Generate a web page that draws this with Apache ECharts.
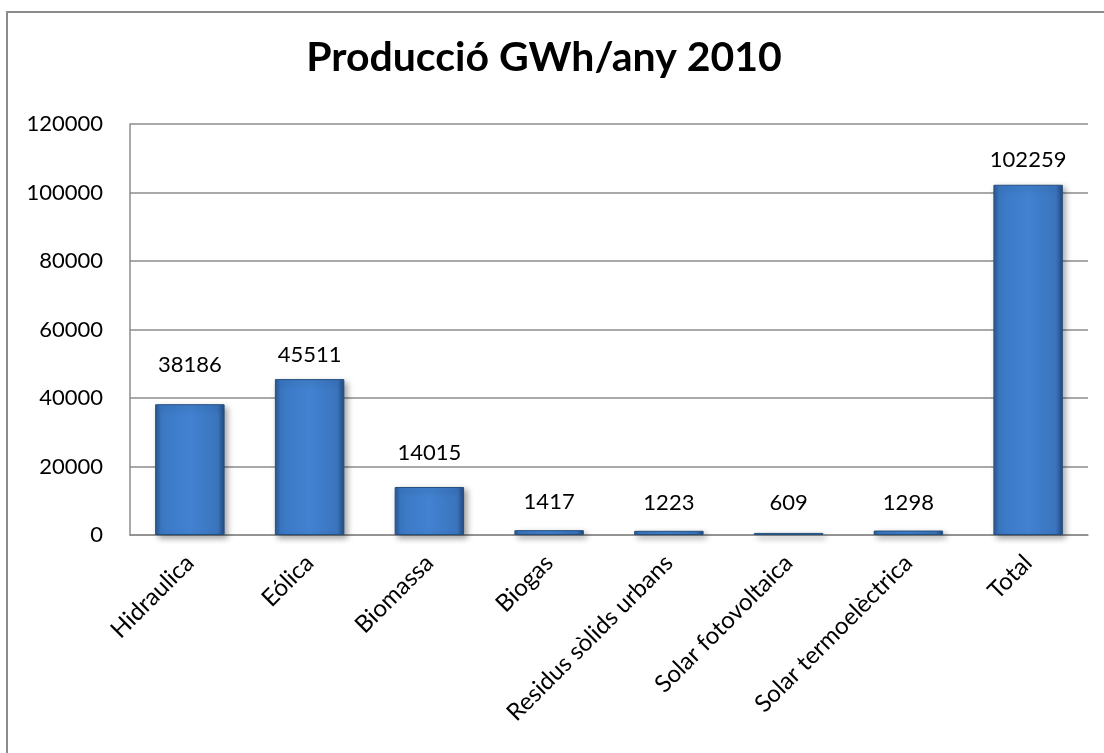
<!DOCTYPE html>
<html>
<head>
<meta charset="utf-8">
<script src="https://cdn.jsdelivr.net/npm/echarts@6/dist/echarts.min.js"></script>
<style>
  html, body { margin: 0; padding: 0; background: #fff; }
  #chart { width: 1104px; height: 753px; }
</style>
</head>
<body>
<div id="chart"></div>
<script>
// Energy production by source, 2010 (GWh/year)
const categories = ['Hidraulica', 'Eólica', 'Biomassa', 'Biogas', 'Residus sòlids urbans', 'Solar fotovoltaica', 'Solar termoelèctrica', 'Total'];
const production = [38186, 45511, 14015, 1417, 1223, 609, 1298, 102259];
const yTicks = [0, 20000, 40000, 60000, 80000, 100000, 120000];

// gap between each bar top and its value label (px)
const labelGap = [28, 13, 23, 17, 17, 19, 17, 14];

const FONT = 'Lato, "Open Sans", sans-serif';

const barFill = new echarts.graphic.LinearGradient(0, 0, 1, 0, [
  { offset: 0, color: '#29568f' },
  { offset: 0.08, color: '#3b78c4' },
  { offset: 0.5, color: '#4282d1' },
  { offset: 0.9, color: '#3a74bd' },
  { offset: 1, color: '#234a7c' }
]);

const barData = production.map((v, i) => ({
  value: v,
  label: { distance: labelGap[i] }
}));

const chart = echarts.init(document.getElementById('chart'), null, { renderer: 'canvas' });
chart.setOption({
  backgroundColor: '#ffffff',
  animation: false,
  graphic: [{
    type: 'rect',
    shape: { x: 7, y: 12, width: 1120, height: 780 },
    style: { fill: 'none', stroke: '#8c8c8c', lineWidth: 2 },
    silent: true
  }, {
    type: 'text',
    x: 544,
    y: 37,
    style: {
      text: 'Producció GWh/any 2010',
      fontFamily: FONT,
      fontWeight: 'bold',
      fontSize: 41,
      fill: '#000',
      textAlign: 'center',
      textVerticalAlign: 'top'
    },
    silent: true
  }],
  grid: { left: 130, top: 124, right: 16, bottom: 218, containLabel: false },
  xAxis: {
    type: 'category',
    data: categories,
    axisLine: { show: true, lineStyle: { color: '#8c8c8c', width: 1.5 } },
    axisTick: { show: false },
    axisLabel: {
      rotate: 45,
      interval: 0,
      margin: 24,
      fontFamily: FONT,
      fontSize: 24,
      color: '#000'
    }
  },
  yAxis: {
    type: 'value',
    min: yTicks[0],
    max: yTicks[yTicks.length - 1],
    interval: yTicks[1] - yTicks[0],
    axisLine: { show: true, lineStyle: { color: '#8c8c8c', width: 1.5 } },
    axisTick: { show: false },
    splitLine: { lineStyle: { color: '#8c8c8c', width: 1.5 } },
    axisLabel: {
      margin: 27,
      fontFamily: FONT,
      fontSize: 22,
      color: '#000',
      formatter: v => String(v)
    }
  },
  series: [{
    type: 'bar',
    data: barData,
    barWidth: '58%',
    itemStyle: {
      color: barFill,
      borderColor: '#24507f',
      borderWidth: 1,
      shadowColor: 'rgba(0,0,0,0.35)',
      shadowBlur: 6,
      shadowOffsetX: 3,
      shadowOffsetY: 3
    },
    label: {
      show: true,
      position: 'top',
      fontFamily: FONT,
      fontSize: 22,
      color: '#000'
    }
  }]
});
</script>
</body>
</html>
